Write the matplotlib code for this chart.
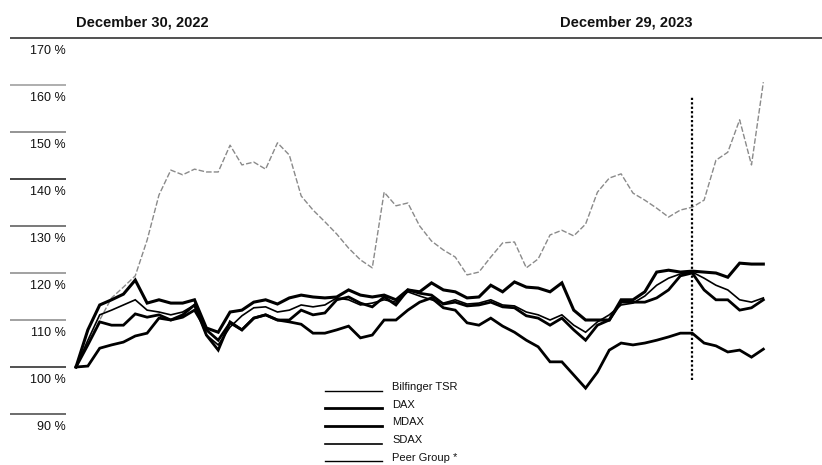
import numpy as np
import matplotlib
matplotlib.use('Agg')
import matplotlib.pyplot as plt

plt.rcParams['font.family'] = ['Liberation Sans Narrow', 'Liberation Sans', 'DejaVu Sans']

#%% data: weekly index values (%), week 0 = December 30, 2022
bilfinger = [100, 105.1, 110, 114.7, 117, 119.4, 127, 136.6, 141.9, 140.9,
             142.1, 141.5, 141.5, 147.2, 143, 143.6, 142.1, 147.7, 145.1, 136.4,
             133.4, 130.9, 128.3, 125.3, 122.8, 121.1, 137.2, 134.3, 134.9, 130,
             126.8, 124.9, 123.4, 119.6, 120.2, 123.4, 126.4, 126.6, 121.1, 123,
             128.1, 129.1, 127.9, 130.4, 137.2, 140.2, 141.1, 137, 135.5, 133.8,
             131.9, 133.4, 134, 135.5, 144, 145.7, 152.6, 143, 160.6]
dax = [100, 107.9, 113.2, 114.3, 115.5, 118.5, 113.6, 114.3, 113.6, 113.6,
       114.3, 108.3, 107.4, 111.7, 112.1, 113.8, 114.3, 113.4, 114.7, 115.3,
       114.9, 114.7, 114.9, 116.4, 115.3, 114.9, 115.3, 114.3, 116.4, 116.0,
       117.9, 116.4, 116.0, 114.7, 114.9, 117.4, 116.0, 118.1, 117.0, 116.8,
       116.0, 117.9, 112.1, 110.0, 110.0, 110.0, 114.3, 114.3, 116.0, 120.2,
       120.6, 120.2, 120.4, 120.2, 120.0, 119.1, 122.1, 121.9, 121.9]
mdax = [100, 104.7, 109.6, 108.9, 108.9, 111.3, 110.6, 111.1, 110.0, 110.6,
        112.1, 107.9, 105.7, 109.4, 107.9, 110.4, 111.1, 110.0, 110.0, 112.1,
        111.1, 111.5, 114.3, 114.9, 113.6, 112.8, 114.9, 113.2, 116.4, 115.7,
        115.3, 113.4, 113.8, 113.0, 113.2, 113.8, 112.8, 112.6, 110.9, 110.4,
        108.9, 110.4, 107.9, 105.7, 108.9, 110.0, 113.8, 113.8, 113.8, 114.7,
        116.4, 119.4, 120.0, 116.4, 114.3, 114.3, 112.1, 112.6, 114.3]
sdax = [100, 100.2, 104.0, 104.7, 105.3, 106.6, 107.2, 110.4, 110.0, 111.1,
        113.2, 106.8, 103.6, 109.6, 107.9, 110.4, 111.1, 110.0, 109.6, 109.1,
        107.2, 107.2, 107.9, 108.7, 106.2, 106.8, 110.0, 110.0, 112.1, 113.8,
        114.7, 112.6, 112.1, 109.4, 108.9, 110.4, 108.7, 107.4, 105.7, 104.3,
        101.1, 101.1, 98.3, 95.5, 98.9, 103.6, 105.1, 104.7, 105.1, 105.7,
        106.4, 107.2, 107.2, 105.1, 104.5, 103.2, 103.6, 102.1, 103.8]
peer = [100, 105.7, 111.1, 112.1, 113.2, 114.3, 112.1, 111.7, 111.1, 111.7,
        113.2, 106.8, 104.7, 108.5, 110.9, 112.6, 112.8, 111.7, 112.1, 113.2,
        112.8, 113.2, 114.7, 114.3, 113.2, 113.6, 114.3, 113.8, 116.0, 115.1,
        114.3, 113.6, 114.3, 113.4, 113.6, 114.3, 113.2, 113.0, 111.7, 111.1,
        110.0, 111.1, 108.9, 107.4, 109.6, 111.1, 113.2, 113.6, 115.1, 117.4,
        118.9, 119.8, 120.2, 118.9, 117.4, 116.4, 114.3, 113.8, 114.7]

legend_labels = ['Bilfinger TSR', 'DAX', 'MDAX', 'SDAX', 'Peer Group *']
tick_values = [170, 160, 150, 140, 130, 120, 110, 100, 90]
tick_colors = ['#222222', '#999999', '#777777', '#111111', '#555555',
               '#888888', '#888888', '#222222', '#444444']
year_end_week = 52
header_left = 'December 30, 2022'
header_right = 'December 29, 2023'

weeks = np.arange(len(bilfinger))

#%% figure
fig = plt.figure(figsize=(8.22, 4.65), dpi=100)
ax = fig.add_axes([0, 0, 1, 1])
ax.set_xlim(-6.414, 62.95)
ax.set_ylim(79.15, 178.09)
ax.axis('off')

# y tick lines and labels
ytr = ax.get_yaxis_transform()
for v, c in zip(tick_values, tick_colors):
    x1 = 1.0 if v == 170 else 0.0803
    ax.plot([0.0122, x1], [v, v], color=c, lw=1.1, transform=ytr,
            solid_capstyle='butt')
    ax.text(0.0803, v - 2.75, '%d %%' % v, transform=ytr, ha='right',
            va='center', fontsize=9, color='#111111')

# headers
ax.text(0, 173.3, header_left, ha='left', va='center', fontsize=10.5,
        fontweight='bold', color='#111111')
ax.text(year_end_week, 173.3, header_right, ha='right', va='center',
        fontsize=10.5, fontweight='bold', color='#111111')

# series
ax.plot(weeks, bilfinger, color='#8a8a8a', lw=1.0, ls=(0, (4, 1.5)))
ax.plot(weeks, sdax, color='black', lw=2.0, solid_joinstyle='miter')
ax.plot(weeks, mdax, color='black', lw=2.0, solid_joinstyle='miter')
ax.plot(weeks, peer, color='black', lw=1.2, solid_joinstyle='miter')
ax.plot(weeks, dax, color='black', lw=2.2, solid_joinstyle='miter')

# year end marker
ax.vlines(year_end_week, 97.2, 157.4, colors='black', linestyles=(0, (1, 1)),
          lw=1.6)

# legend drawn by hand
legend_widths = [1.0, 2.0, 2.0, 1.2, 1.0]
fig_tr = fig.transFigure
for i, (lab, w) in enumerate(zip(legend_labels, legend_widths)):
    yc = 1 - (387 + 17.7 * i) / 465
    yl = 1 - (390.5 + 17.7 * i) / 465
    fig.add_artist(plt.Line2D([325 / 822, 382 / 822], [yl, yl], color='black',
                              lw=w, transform=fig_tr))
    fig.text(392 / 822, yc, lab, ha='left', va='center', fontsize=8,
             color='#111111')

plt.savefig('out.png', dpi=100)
